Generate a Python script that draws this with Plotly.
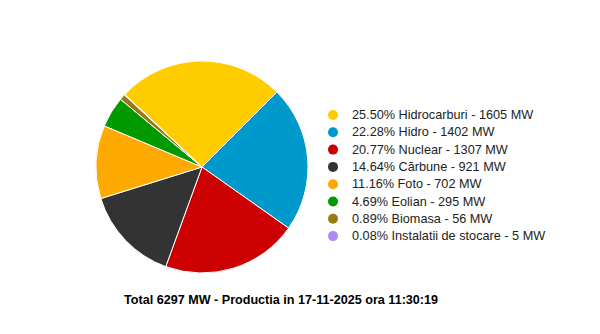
import plotly.graph_objects as go

labels = ["Hidrocarburi", "Hidro", "Nuclear", "Cărbune", "Foto", "Eolian", "Biomasa", "Instalatii de stocare"]
values_mw = [1605, 1402, 1307, 921, 702, 295, 56, 5]
percents = [25.50, 22.28, 20.77, 14.64, 11.16, 4.69, 0.89, 0.08]
colors = ["#FFCC00", "#0099CC", "#CC0000", "#333333", "#FFAA00", "#009900", "#9A7A12", "#A98CF7"]
title_text = "Total 6297 MW - Productia in 17-11-2025 ora 11:30:19"

W, H = 600, 334
fig = go.Figure()

fig.add_trace(go.Pie(
    labels=labels, values=values_mw, sort=False, direction="clockwise",
    rotation=-46.8,
    marker=dict(colors=colors, line=dict(color="white", width=1)),
    textinfo="none", hoverinfo="label+value+percent", showlegend=False,
    domain=dict(x=[96 / W, 308 / W], y=[1 - 273 / H, 1 - 61 / H]),
))

# legend as scatter markers + annotation text
row0, step = 115, 17.3
leg_y = [row0 + i * step for i in range(len(labels))]
leg_x = [333] * len(labels)
leg_text = [f"{p:.2f}% {l} - {v} MW" for p, l, v in zip(percents, labels, values_mw)]
fig.add_trace(go.Scatter(
    x=leg_x, y=leg_y, mode="markers",
    marker=dict(size=10, color=colors),
    hoverinfo="skip", showlegend=False, cliponaxis=False,
))

annotations = [dict(
    text=t, x=350, y=y, xref="x", yref="y", xanchor="left", yanchor="middle",
    showarrow=False, font=dict(family="Arial, Liberation Sans", size=12.7, color="#222222"),
) for t, y in zip(leg_text, leg_y)]
annotations.append(dict(
    text=f"<b>{title_text}</b>", x=122, y=300, xref="x", yref="y",
    xanchor="left", yanchor="middle", showarrow=False,
    font=dict(family="Arial, Liberation Sans", size=12.6, color="#000000"),
))

fig.update_layout(
    width=W, height=H, margin=dict(l=0, r=0, t=0, b=0),
    paper_bgcolor="white", plot_bgcolor="white",
    xaxis=dict(range=[0, W], visible=False, domain=[0, 1], fixedrange=True),
    yaxis=dict(range=[H, 0], visible=False, domain=[0, 1], fixedrange=True),
    annotations=annotations,
)

fig.write_html("out.html")
